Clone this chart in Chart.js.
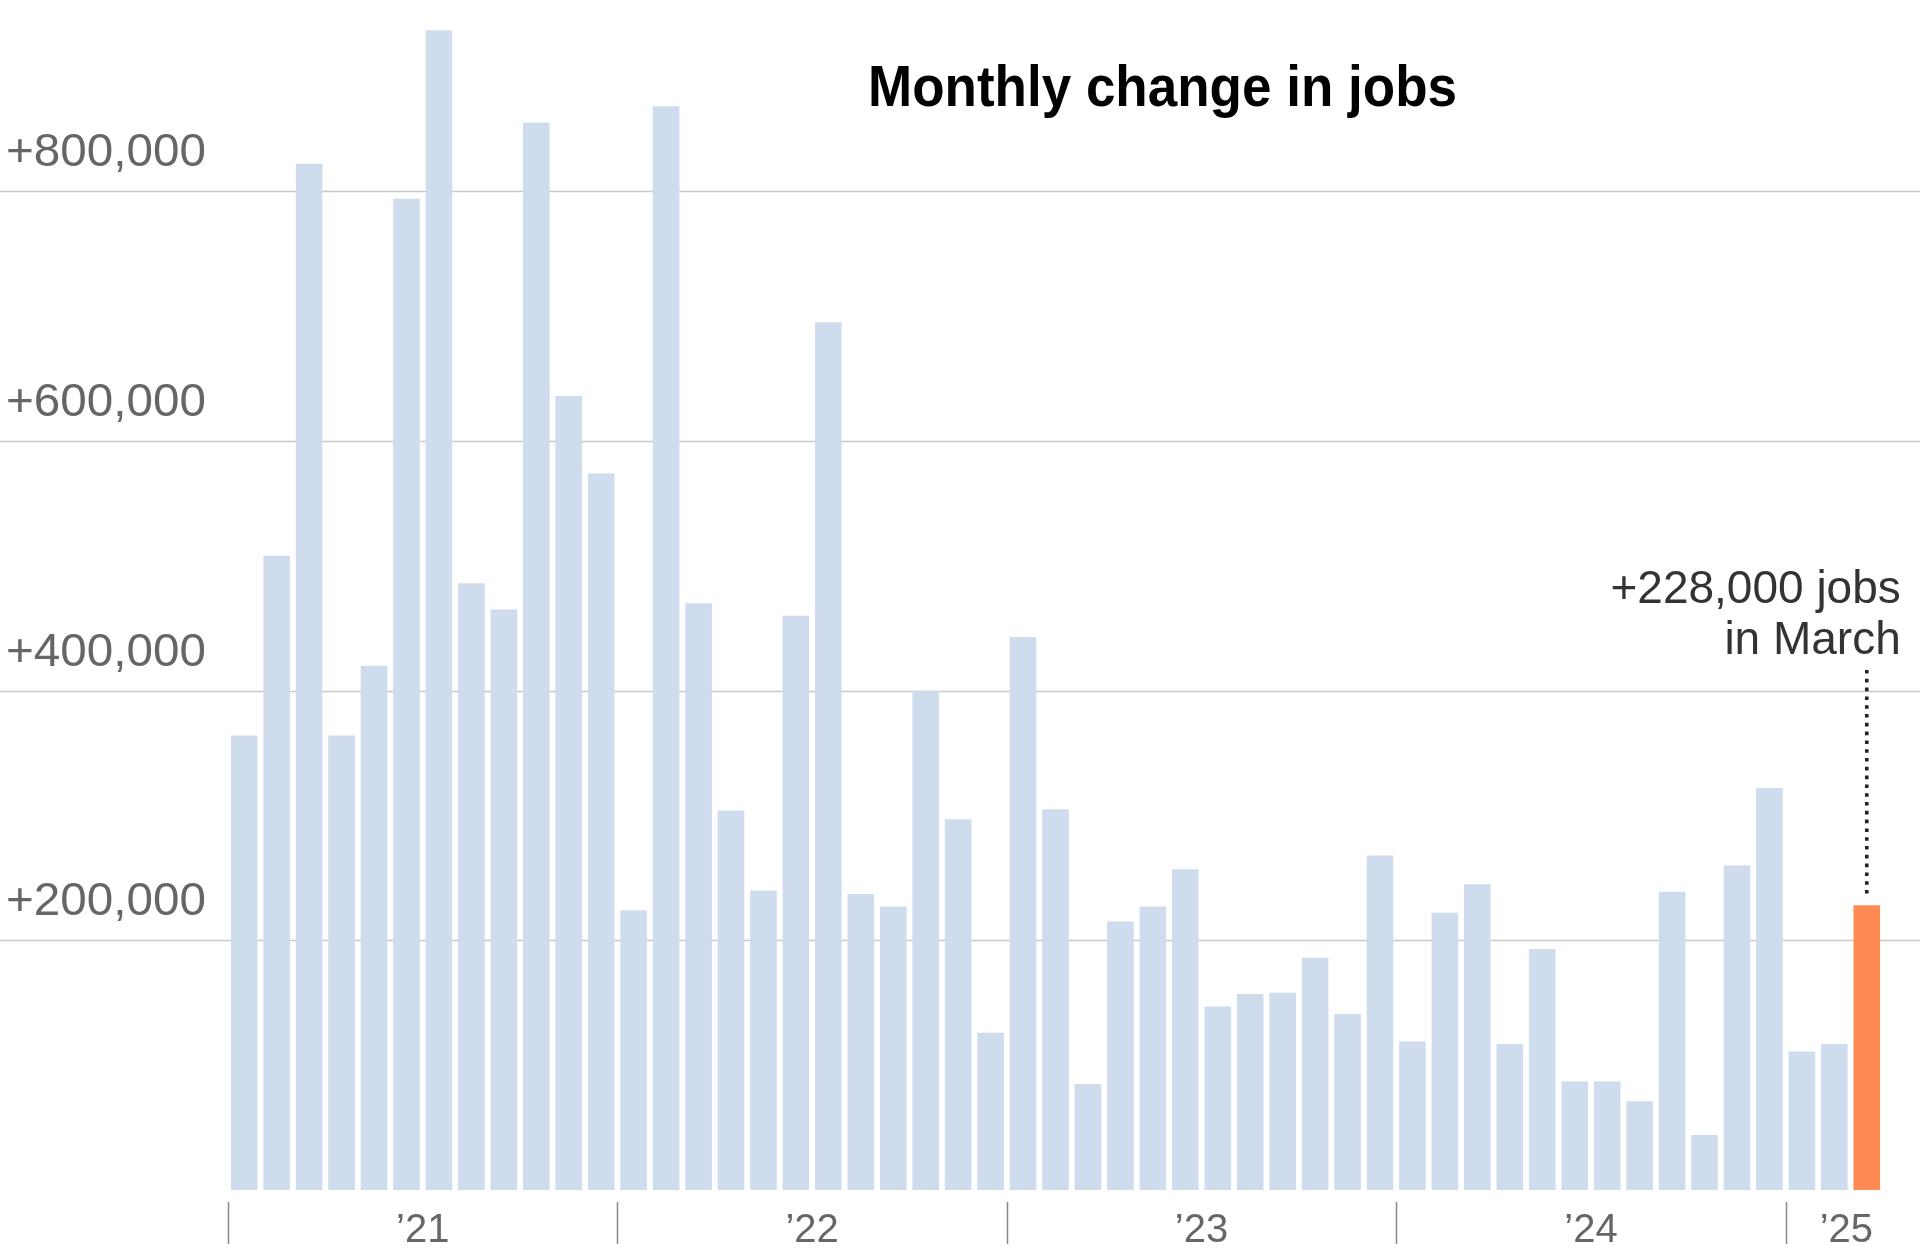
<!DOCTYPE html>
<html>
<head>
<meta charset="utf-8">
<title>Monthly change in jobs</title>
<script src="https://cdn.jsdelivr.net/npm/chart.js@4.4.1/dist/chart.umd.min.js"></script>
<style>
  html, body { margin: 0; padding: 0; background: #fff; }
  #wrap { position: relative; width: 1920px; height: 1260px; }
</style>
</head>
<body>
<div id="wrap"><canvas id="chartJobs"></canvas></div>
<script>
// values, Jan 2021 .. Mar 2025
const jobs2021 = [364000, 508000, 822000, 364000, 420000, 794000, 929000, 486000, 465000, 855000, 636000, 574000]
const jobs2022 = [224000, 868000, 470000, 304000, 240000, 460000, 695000, 237000, 227000, 400000, 297000, 126000]
const jobs2023 = [443000, 305000, 85000, 215000, 227000, 257000, 147000, 157000, 158000, 186000, 141000, 268000]
const jobs2024 = [119000, 222000, 245000, 117000, 193000, 87000, 87000, 71000, 239000, 44000, 260000, 322000]
const jobs2025 = [111000, 117000, 228000]

const years = ['2021', '2022', '2023', '2024', '2025']
const yearLabels = ['\u201921', '\u201922', '\u201923', '\u201924', '\u201925']
const monthNames = ['Jan', 'Feb', 'Mar', 'Apr', 'May', 'Jun', 'Jul', 'Aug', 'Sep', 'Oct', 'Nov', 'Dec']

const yTicks = [200000, 400000, 600000, 800000]
const yTickLabels = ['+200,000', '+400,000', '+600,000', '+800,000']

const title = 'Monthly change in jobs'
const noteLines = ['+228,000 jobs', 'in March']

const seriesByYear = [jobs2021, jobs2022, jobs2023, jobs2024, jobs2025]
const values = [].concat(...seriesByYear)
const labels = []
seriesByYear.forEach((arr, yi) => {
  arr.forEach((v, mi) => labels.push(monthNames[mi] + ' ' + years[yi]))
})
const lastIdx = values.length - 1

const barBlue = '#cfdcee'
const barOrange = '#fe8b53'
const textFont = '"Liberation Sans", Arial, sans-serif'

const decorPlugin = {
  id: 'decor',
  beforeDatasetsDraw (chart) {
    const ctx = chart.ctx
    const y = chart.scales.y
    ctx.save()
    ctx.strokeStyle = '#c8c8c8'
    ctx.lineWidth = 1.3
    yTicks.forEach((v) => {
      const py = Math.round(y.getPixelForValue(v)) + 0.5
      ctx.beginPath()
      ctx.moveTo(0, py)
      ctx.lineTo(chart.width, py)
      ctx.stroke()
    })
    // labels sit above each line, a bit wider than the plain font
    ctx.fillStyle = '#666'
    ctx.font = '46px ' + textFont
    ctx.textAlign = 'left'
    ctx.textBaseline = 'alphabetic'
    yTicks.forEach((v, i) => {
      const py = Math.round(y.getPixelForValue(v))
      const w = ctx.measureText(yTickLabels[i]).width
      ctx.save()
      ctx.translate(6, py - 25)
      ctx.scale(200 / w, 1)
      ctx.fillText(yTickLabels[i], 0, 0)
      ctx.restore()
    })
    ctx.restore()
  },
  afterDatasetsDraw (chart) {
    const ctx = chart.ctx
    const x = chart.scales.x
    const y = chart.scales.y
    const pitch = x.getPixelForValue(1) - x.getPixelForValue(0)
    const base = y.getPixelForValue(0)

    // year ticks + labels
    ctx.save()
    ctx.strokeStyle = '#888'
    ctx.lineWidth = 1.5
    ctx.fillStyle = '#666'
    ctx.font = '40px ' + textFont
    ctx.textAlign = 'center'
    ctx.textBaseline = 'alphabetic'
    let start = 0
    seriesByYear.forEach((arr, yi) => {
      const x0 = x.getPixelForValue(start) - pitch / 2
      const x1 = x.getPixelForValue(start + arr.length - 1) + pitch / 2
      const tx = Math.round(x0) + 0.5
      ctx.beginPath()
      ctx.moveTo(tx, base + 12)
      ctx.lineTo(tx, base + 54)
      ctx.stroke()
      let cx = (x0 + x1) / 2
      if (arr.length < 12) cx += 12
      ctx.fillText(yearLabels[yi], cx, base + 52)
      start += arr.length
    })
    ctx.restore()

    // title, condensed
    ctx.save()
    ctx.font = 'bold 57px ' + textFont
    ctx.fillStyle = '#000'
    ctx.textBaseline = 'alphabetic'
    ctx.textAlign = 'left'
    const w = ctx.measureText(title).width
    ctx.translate(868, 106)
    ctx.scale(589 / w, 1)
    ctx.fillText(title, 0, 0)
    ctx.restore()

    // note on the last bar
    const bx = x.getPixelForValue(lastIdx)
    const top = y.getPixelForValue(values[lastIdx])
    ctx.save()
    ctx.fillStyle = '#333'
    ctx.font = '46px ' + textFont
    ctx.textAlign = 'right'
    ctx.textBaseline = 'alphabetic'
    ctx.fillText(noteLines[0], bx + 34, 603)
    ctx.fillText(noteLines[1], bx + 34, 654)
    ctx.strokeStyle = '#222'
    ctx.lineWidth = 3.6
    ctx.setLineDash([3.6, 5.2])
    ctx.beginPath()
    ctx.moveTo(bx, 670)
    ctx.lineTo(bx, top - 10)
    ctx.stroke()
    ctx.restore()
  }
}

document.addEventListener('DOMContentLoaded', function () {
  const ctx = document.getElementById('chartJobs')
  new Chart(ctx, {
    type: 'bar',
    data: {
      labels: labels,
      datasets: [{
        label: 'Monthly change in jobs',
        data: values,
        backgroundColor: values.map((v, i) => i === lastIdx ? barOrange : barBlue),
        borderWidth: 0,
        barPercentage: 0.82,
        categoryPercentage: 1.0
      }]
    },
    options: {
      responsive: true,
      maintainAspectRatio: false,
      animation: false,
      layout: { padding: { left: 228, right: 37, top: 4, bottom: 70 } },
      plugins: {
        legend: { display: false },
        tooltip: { enabled: false },
        title: { display: false }
      },
      scales: {
        x: { display: false, offset: true },
        y: { display: false, min: 0, max: 950000 }
      }
    },
    plugins: [decorPlugin]
  })
}, false)
</script>
</body>
</html>
